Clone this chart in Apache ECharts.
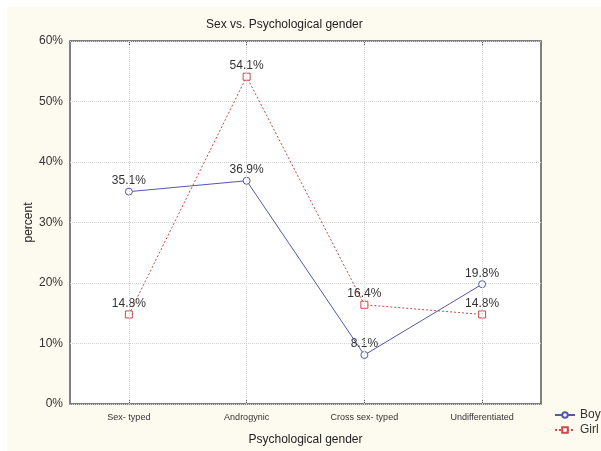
<!DOCTYPE html>
<html><head><meta charset="utf-8">
<script src="https://cdn.jsdelivr.net/npm/echarts@6/dist/echarts.min.js"></script>
<style>html,body{margin:0;padding:0;background:#fff}#c{width:601px;height:451px}</style>
</head><body><div id="c"></div>
<script>
const categories = ['Sex- typed', 'Androgynic', 'Cross sex- typed', 'Undifferentiated'];
const boyValues = [35.1, 36.9, 8.1, 19.8];
const girlValues = [14.8, 54.1, 16.4, 14.8];
const yTicks = [0, 10, 20, 30, 40, 50, 60];

const FONT = '"Liberation Sans", Arial, sans-serif';
const chart = echarts.init(document.getElementById('c'), null, {renderer: 'canvas'});
const labelCfg = {show: true, position: 'top', distance: 1, formatter: p => p.value.toFixed(1) + '%', color: '#333', fontSize: 12, fontFamily: FONT};
chart.setOption({
  animation: false,
  backgroundColor: '#fff',
  graphic: [{type: 'rect', z: -10, silent: true, shape: {x: 7, y: 7, width: 594, height: 444}, style: {fill: '#fdfaef'}}],
  title: {text: 'Sex vs. Psychological gender', left: 201, top: 14, textStyle: {fontSize: 12, fontWeight: 'normal', color: '#222', fontFamily: FONT}},
  grid: {left: 70, right: 60, top: 41, bottom: 45, show: true, backgroundColor: '#fff', borderColor: '#555', borderWidth: 1.5, containLabel: false},
  legend: {orient: 'vertical', left: 549, top: 404, itemWidth: 20, itemHeight: 7, itemGap: 3, textStyle: {fontSize: 12, color: '#333', fontFamily: FONT}, data: ['Boy', 'Girl']},
  xAxis: [{
    type: 'category', data: categories, boundaryGap: true,
    axisLine: {show: false}, axisTick: {show: true, inside: true, alignWithLabel: true, length: 4, lineStyle: {color: '#555'}},
    axisLabel: {fontSize: 9, color: '#333', fontFamily: FONT, margin: 9},
    splitLine: {show: false},
    name: 'Psychological gender', nameLocation: 'middle', nameGap: 30,
    nameTextStyle: {fontSize: 12, color: '#222', fontFamily: FONT}
  }, {
    type: 'category', data: categories, position: 'top', boundaryGap: true,
    axisLine: {show: false}, axisTick: {show: true, inside: true, alignWithLabel: true, length: 4, lineStyle: {color: '#555'}},
    axisLabel: {show: false}
  }],
  yAxis: {
    type: 'value', min: 0, max: 60, interval: 10,
    axisLine: {show: false}, axisTick: {show: false},
    axisLabel: {formatter: '{value}%', fontSize: 12, color: '#333', fontFamily: FONT, margin: 7},
    splitLine: {show: true, lineStyle: {color: '#d4d4d4', type: [1, 1]}},
    name: 'percent', nameLocation: 'middle', nameGap: 35, nameMoveOverlap: false,
    nameTextStyle: {fontSize: 12, color: '#222', fontFamily: FONT}
  },
  series: [{
    name: 'Boy', type: 'line', data: boyValues, symbol: 'circle', symbolSize: 7,
    itemStyle: {color: '#fff', borderColor: '#5658a8', borderWidth: 1},
    lineStyle: {color: '#5658a8', width: 1},
    label: labelCfg, z: 3,
    markLine: {silent: true, symbol: 'none', label: {show: false},
      lineStyle: {color: '#d4d4d4', type: [1, 1], width: 1},
      data: categories.map(c => ({xAxis: c}))}
  }, {
    name: 'Girl', type: 'line', data: girlValues, symbol: 'rect', symbolSize: 7,
    itemStyle: {color: '#fff', borderColor: '#c84a4a', borderWidth: 1},
    lineStyle: {color: '#c84a4a', width: 1, type: [2, 2]},
    label: labelCfg, z: 2
  }]
});
</script></body></html>
